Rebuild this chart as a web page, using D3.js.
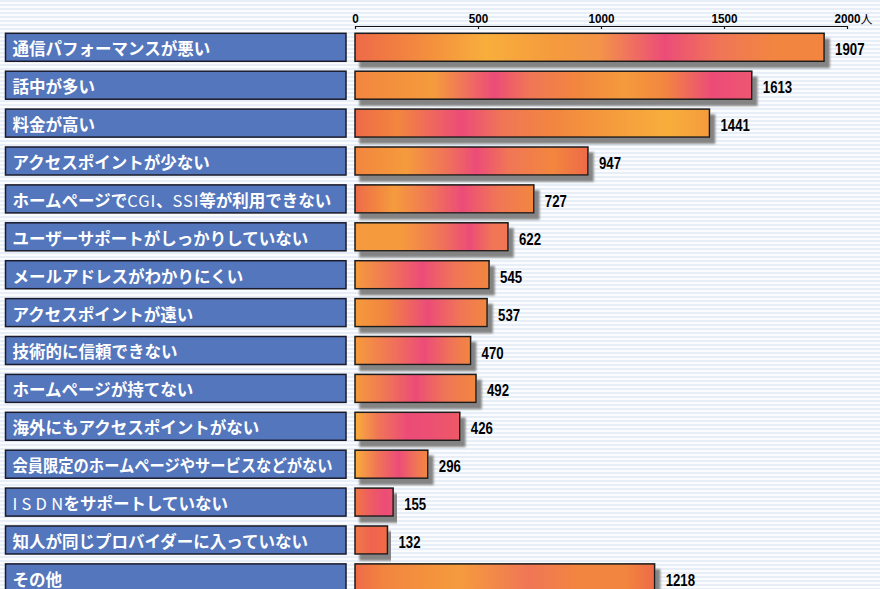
<!DOCTYPE html>
<html><head><meta charset="utf-8">
<script src="https://cdn.jsdelivr.net/npm/d3@7"></script>
<style>html,body{margin:0;padding:0;background:#fff;}svg{display:block;}</style>
</head><body>
<svg id="chart" width="880" height="589"></svg>
<script>
// ---- data ----
const categories = [
  "通信パフォーマンスが悪い",
  "話中が多い",
  "料金が高い",
  "アクセスポイントが少ない",
  "ホームページでCGI、SSI等が利用できない",
  "ユーザーサポートがしっかりしていない",
  "メールアドレスがわかりにくい",
  "アクセスポイントが遠い",
  "技術的に信頼できない",
  "ホームページが持てない",
  "海外にもアクセスポイントがない",
  "会員限定のホームページやサービスなどがない",
  "ISDNをサポートしていない",
  "知人が同じプロバイダーに入っていない",
  "その他"
];
const values = [1907, 1613, 1441, 947, 727, 622, 545, 537, 470, 492, 426, 296, 155, 132, 1218];
const tickValues = [0, 500, 1000, 1500, 2000];
const unitLabel = "人";

// ---- styles (bar textures as gradient stops) ----
const O = "#F2863F", Y = "#F8AE3B", P = "#EC4C78", R = "#EE6A48", A = "#F59B3D", M = "#F07656";
const barTextures = [
  [[0,R],[.12,O],[.28,Y],[.42,A],[.52,"#F39448"],[.66,P],[.78,M],[.9,O],[1,O]],
  [[0,O],[.2,A],[.35,P],[.44,M],[.56,O],[.68,A],[.78,O],[.9,P],[1,"#EE5570"]],
  [[0,R],[.12,O],[.3,P],[.42,M],[.56,O],[.72,A],[.88,Y],[1,A]],
  [[0,O],[.22,A],[.38,M],[.52,P],[.66,M],[.85,O],[1,R]],
  [[0,R],[.22,A],[.42,M],[.6,P],[.8,M],[1,O]],
  [[0,A],[.3,A],[.55,M],[.75,P],[.9,M],[1,M]],
  [[0,A],[.25,M],[.5,P],[.75,M],[1,O]],
  [[0,A],[.22,O],[.55,P],[.8,M],[1,O]],
  [[0,A],[.3,M],[.6,P],[.85,M],[1,O]],
  [[0,A],[.25,M],[.5,P],[.75,M],[1,O]],
  [[0,Y],[.22,M],[.5,P],[.8,"#EC5270"],[1,"#EE5A65"]],
  [[0,Y],[.3,M],[.6,P],[.85,M],[1,O]],
  [[0,"#F07845"],[.45,"#EE5A65"],[.8,P],[1,"#EE5570"]],
  [[0,"#F07848"],[.5,"#EE6450"],[1,"#F06C45"]],
  [[0,R],[.1,O],[.35,A],[.58,M],[.75,O],[.9,O],[1,R]]
];
const latinSpacing = { "ISDN": 4.2 };

const svg = d3.select("#chart");
const W = 880, H = 589;
const defs = svg.append("defs");

// striped background
const pat = defs.append("pattern").attr("id","stripes").attr("patternUnits","userSpaceOnUse")
  .attr("width",8).attr("height",4);
pat.append("rect").attr("width",8).attr("height",4).attr("fill","#FBFCFE");
pat.append("rect").attr("width",8).attr("height",2).attr("fill","#E7EEF7");
svg.append("rect").attr("width",W).attr("height",H).attr("fill","url(#stripes)");

// shadow filter
const f = defs.append("filter").attr("id","shadow").attr("x","-5%").attr("y","-20%").attr("width","115%").attr("height","160%");
f.append("feDropShadow").attr("dx",5).attr("dy",6).attr("stdDeviation",1.3)
  .attr("flood-color","#848484").attr("flood-opacity",1);

// gradients
barTextures.forEach((stops, i) => {
  const g = defs.append("linearGradient").attr("id","tex"+i).attr("x1",0).attr("x2",1).attr("y1",0).attr("y2",0);
  stops.forEach(s => g.append("stop").attr("offset",s[0]).attr("stop-color",s[1]));
});

// scales
const x = d3.scaleLinear().domain([0, 2000]).range([355, 847]);
const y = d3.scaleBand().domain(categories).range([33.3, 33.3 + 15*37.9 - 9.9]).paddingInner(0.261).paddingOuter(0);

// axis
const axis = d3.axisTop(x).tickValues(tickValues).tickFormat(d3.format("d"))
  .tickSize(-3).tickSizeOuter(0).tickPadding(3);
const ag = svg.append("g").attr("transform","translate(0,26)").call(axis);
ag.select(".domain").attr("stroke","#111").attr("stroke-width",1.2);
ag.selectAll(".tick line").attr("stroke","#111").attr("stroke-width",1.2);
ag.selectAll(".tick text")
  .attr("font-family","'Liberation Sans','Arial',sans-serif")
  .attr("font-weight","bold").attr("font-size",13).attr("fill","#000")
  .attr("transform","scale(0.9,1)");
ag.selectAll(".tick").filter(d => d === 2000).append("text")
  .attr("x", 13).attr("y", -2)
  .attr("font-family","'Noto Sans CJK JP',sans-serif").attr("font-size",12).attr("fill","#000")
  .attr("text-anchor","start").text(unitLabel);

// label boxes
const rows = svg.append("g");
rows.selectAll("rect.lab").data(categories).join("rect").attr("class","lab")
  .attr("x",5.5).attr("y",d => y(d)).attr("width",340.5).attr("height",y.bandwidth())
  .attr("fill","#5476BC").attr("stroke","#1a1a2a").attr("stroke-width",1.5);

const labels = rows.selectAll("text.lab").data(categories).join("text").attr("class","lab")
  .attr("x",12.5).attr("y",d => y(d) + y.bandwidth()/2 + 1)
  .attr("dominant-baseline","central")
  .attr("font-family","'Noto Sans CJK JP',sans-serif").attr("font-size",16.5)
  .attr("fill","#fff");
labels.each(function(d){
  const t = d3.select(this);
  d.split(/([A-Za-z]+)/).filter(s => s.length).forEach(s => {
    const latin = /^[A-Za-z]+$/.test(s);
    if (!latin) { t.append("tspan").attr("font-weight","bold").text(s); return; }
    const ls = latinSpacing[s] != null ? latinSpacing[s] : 1;
    t.append("tspan").attr("font-weight","normal").attr("letter-spacing", ls).text(s.slice(0, -1));
    t.append("tspan").attr("font-weight","normal").attr("letter-spacing", 0.5).text(s.slice(-1));
  });
  const w = this.getComputedTextLength();
  if (w > 322) t.attr("textLength",320).attr("lengthAdjust","spacingAndGlyphs");
});

// bars
const data = categories.map((c,i) => ({c, v: values[i], i}));
svg.append("g").selectAll("rect").data(data).join("rect")
  .attr("x", x(0)).attr("y", d => y(d.c))
  .attr("width", d => x(d.v) - x(0)).attr("height", y.bandwidth())
  .attr("fill", d => `url(#tex${d.i})`)
  .attr("stroke","#1a1a1a").attr("stroke-width",1.5)
  .attr("filter","url(#shadow)");

// value labels
svg.append("g").selectAll("text").data(data).join("text")
  .attr("transform", d => `translate(${x(d.v) + 11},${y(d.c) + y.bandwidth()/2 + 2}) scale(0.8,1)`)
  .attr("dominant-baseline","central")
  .attr("font-family","'Liberation Sans','Arial',sans-serif")
  .attr("font-weight","bold").attr("font-size",16.5).attr("fill","#000")
  .text(d => d.v);
</script>
</body></html>
